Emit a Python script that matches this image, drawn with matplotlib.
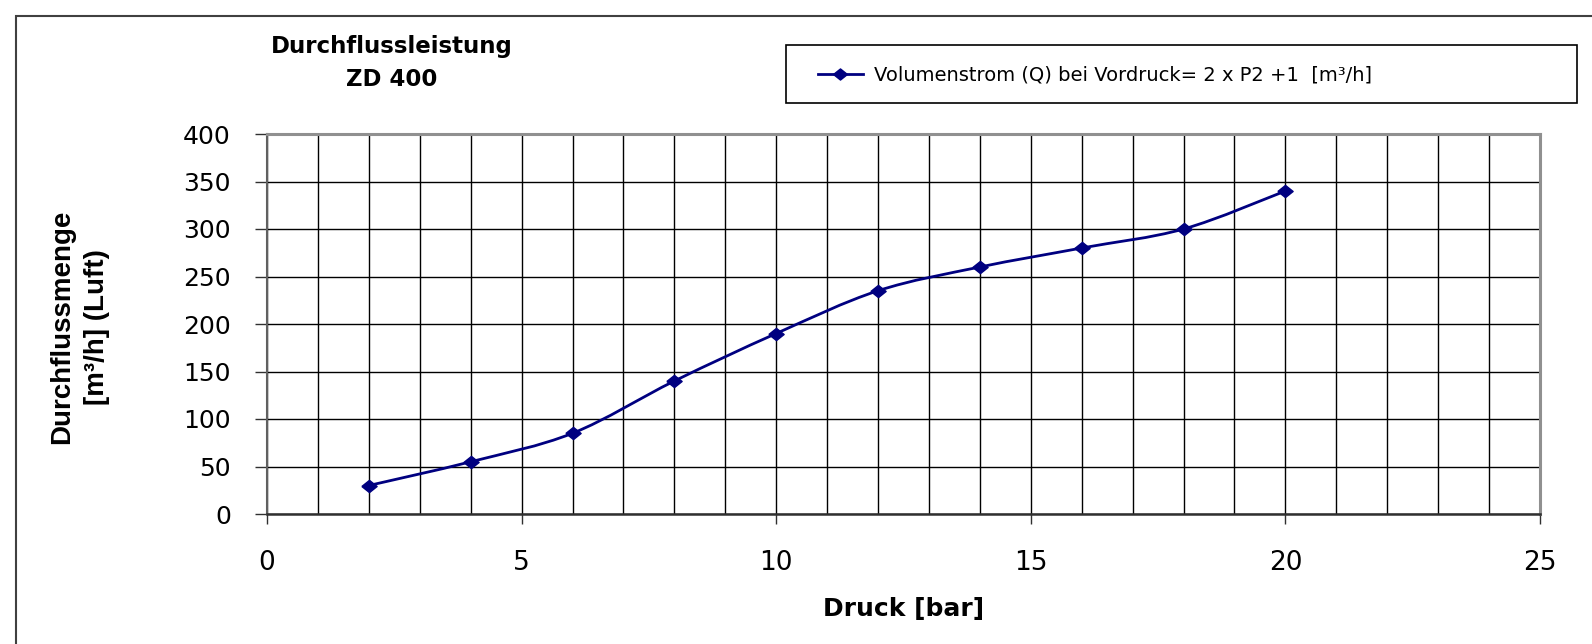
import matplotlib
matplotlib.use("Agg")
import matplotlib.pyplot as plt
from matplotlib.path import Path
from matplotlib.patches import PathPatch, Rectangle
from matplotlib.lines import Line2D
import numpy as np

# ---- data ----
pressure_bar = [2, 4, 6, 8, 10, 12, 14, 16, 18, 20]
flow_m3h = [30, 55, 85, 140, 190, 235, 260, 280, 300, 340]
x_ticks = [0, 5, 10, 15, 20, 25]
y_ticks = [0, 50, 100, 150, 200, 250, 300, 350, 400]
series_label = "Volumenstrom (Q) bei Vordruck= 2 x P2 +1  [m³/h]"
title_lines = ["Durchflussleistung", "ZD 400"]
x_label = "Druck [bar]"
y_label = "Durchflussmenge\n[m³/h] (Luft)"

plt.rcParams['font.family'] = ['DejaVu Sans']

W, H = 1592, 644
fig = plt.figure(figsize=(W / 100, H / 100), dpi=100)
fig.patch.set_facecolor('white')

# outer chart frame (extends beyond right/bottom edges)
fig.patches.append(Rectangle((15.5 / W, -0.05), 1.2, 1 - 16 / H + 0.05,
                             transform=fig.transFigure, fill=False,
                             edgecolor='#404040', linewidth=1.5, clip_on=False))

ax = fig.add_axes([267 / W, 1 - 514 / H, (1540 - 267) / W, (514 - 134) / H])
ax.set_xlim(0, 25)
ax.set_ylim(0, 400)

navy = '#000080'

# Excel-like smoothed line: cubic Bezier segments via library Path
pts = np.column_stack([pressure_bar, flow_m3h]).astype(float)
n = len(pts)
verts = [tuple(pts[0])]
codes = [Path.MOVETO]
for i in range(n - 1):
    p0 = pts[i - 1] if i > 0 else pts[i]
    p1 = pts[i]
    p2 = pts[i + 1]
    p3 = pts[i + 2] if i + 2 < n else pts[i + 1]
    c1 = p1 + (p2 - p0) / 6.0
    c2 = p2 - (p3 - p1) / 6.0
    verts += [tuple(c1), tuple(c2), tuple(p2)]
    codes += [Path.CURVE4] * 3
ax.add_patch(PathPatch(Path(verts, codes), fill=False, edgecolor=navy,
                       linewidth=2.0, zorder=3))

diamond = [(-1, 0), (0, 0.8), (1, 0), (0, -0.8), (-1, 0)]
ax.plot(pressure_bar, flow_m3h, linestyle='none', marker=diamond,
        markersize=11, color=navy, zorder=4)

# ticks and grid
ax.set_xticks(x_ticks)
ax.set_xticks(np.arange(0, 26, 1), minor=True)
ax.set_yticks(y_ticks)
ax.grid(True, which='both', axis='x', color='black', linewidth=1.0)
ax.grid(True, which='major', axis='y', color='black', linewidth=1.0)
ax.set_axisbelow(True)

ax.tick_params(axis='x', which='major', direction='out', length=7, width=1,
               color='#303030', pad=19, labelsize=19)
ax.tick_params(axis='x', which='minor', length=0)
ax.tick_params(axis='y', which='major', direction='out', length=9, width=1,
               color='#303030', pad=17, labelsize=18)

for s in ('top', 'right'):
    ax.spines[s].set_color('#909090')
    ax.spines[s].set_linewidth(2.2)
ax.spines['left'].set_color('#606060')
ax.spines['left'].set_linewidth(1.5)
ax.spines['bottom'].set_color('#303030')
ax.spines['bottom'].set_linewidth(1.8)

# titles and labels
fig.text(392 / W, 1 - 46 / H, title_lines[0], ha='center', va='center',
         fontsize=16.5, fontweight='bold')
fig.text(392 / W, 1 - 79 / H, title_lines[1], ha='center', va='center',
         fontsize=16.5, fontweight='bold')
fig.text(904 / W, 1 - 609 / H, x_label, ha='center', va='center',
         fontsize=18, fontweight='bold')
fig.text(80 / W, 1 - 327 / H, y_label, ha='center', va='center',
         rotation=90, fontsize=20, fontweight='bold', linespacing=1.45,
         multialignment='center', family=['Liberation Sans', 'DejaVu Sans'])

# legend box drawn as its own frame, legend entry placed inside it
fig.patches.append(Rectangle((786 / W, 1 - 103 / H), (1577 - 786) / W, 58 / H,
                             transform=fig.transFigure, fill=False,
                             edgecolor='black', linewidth=1.2))
handle = Line2D([], [], color=navy, linewidth=2.0, marker=diamond,
                markersize=10)
leg = fig.legend([handle], [series_label],
                 bbox_to_anchor=(818 / W, 1 - 75 / H),
                 bbox_transform=fig.transFigure, loc='center left',
                 fontsize=14, frameon=False,
                 handlelength=2.3, handletextpad=0.6, borderpad=0,
                 borderaxespad=0)

fig.savefig('out.png', dpi=100)
